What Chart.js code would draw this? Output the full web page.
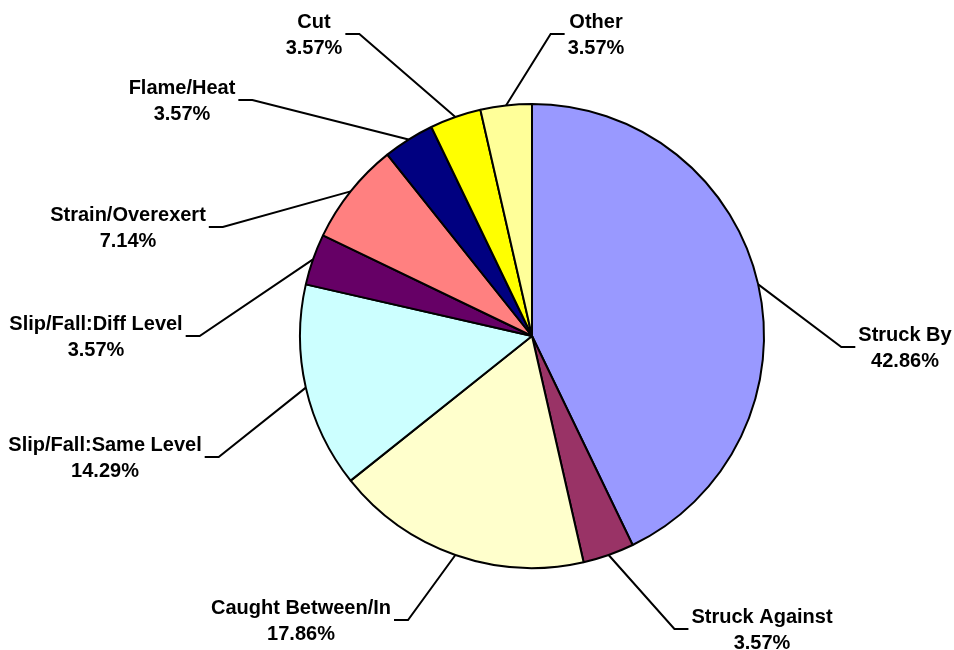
<!DOCTYPE html>
<html>
<head>
<meta charset="utf-8">
<script src="https://cdn.jsdelivr.net/npm/chart.js@4/dist/chart.umd.min.js"></script>
<style>
  html, body { margin: 0; padding: 0; background: #ffffff; }
  #wrap { width: 954px; height: 650px; }
</style>
</head>
<body>
<div id="wrap"><canvas id="c" width="954" height="650"></canvas></div>
<script>
// ---- data ----
const categories = [
  "Struck By", "Struck Against", "Caught Between/In", "Slip/Fall:Same Level",
  "Slip/Fall:Diff Level", "Strain/Overexert", "Flame/Heat", "Cut", "Other"
];
const counts = [12, 1, 5, 4, 1, 2, 1, 1, 1];
const sliceColors = [
  "#9999FF", "#993366", "#FFFFCC", "#CCFFFF",
  "#660066", "#FF8080", "#000080", "#FFFF00", "#FFFF99"
];

// ---- label layout (offsets of label block centre from pie centre, px) ----
const labelOffsets = [
  [373, 11], [230, 293], [-231, 284], [-427, 121],
  [-436, 0], [-404, -109], [-350, -236], [-218, -302], [64, -302]
];

const total = counts.reduce((a, b) => a + b, 0);

const leaderLabels = {
  id: 'leaderLabels',
  afterDatasetsDraw(chart) {
    const ctx = chart.ctx;
    const meta = chart.getDatasetMeta(0);
    ctx.save();
    ctx.font = 'bold 20px "Liberation Sans", Arial, sans-serif';
    ctx.fillStyle = '#000000';
    ctx.strokeStyle = '#000000';
    ctx.lineWidth = 2;
    ctx.lineJoin = 'miter';
    ctx.textAlign = 'center';
    ctx.textBaseline = 'alphabetic';
    meta.data.forEach((arc, i) => {
      const p = arc.getProps(['x', 'y', 'startAngle', 'endAngle', 'outerRadius'], true);
      const mid = (p.startAngle + p.endAngle) / 2;
      const sx = p.x + p.outerRadius * Math.cos(mid);
      const sy = p.y + p.outerRadius * Math.sin(mid);
      const cx = p.x + labelOffsets[i][0];
      const cy = p.y + labelOffsets[i][1];
      const line1 = categories[i];
      const line2 = (counts[i] / total * 100).toFixed(2) + '%';
      const w = Math.max(ctx.measureText(line1).width, ctx.measureText(line2).width);
      let edge, elbow;
      if (labelOffsets[i][0] > 0) {
        edge = cx - w / 2 - 3;
        elbow = edge - 14;
      } else {
        edge = cx + w / 2 + 3;
        elbow = edge + 14;
      }
      ctx.beginPath();
      ctx.moveTo(sx, sy);
      ctx.lineTo(elbow, cy);
      ctx.lineTo(edge, cy);
      ctx.stroke();
      ctx.fillText(line1, cx, cy - 6);
      ctx.fillText(line2, cx, cy + 20);
    });
    ctx.restore();
  }
};

new Chart(document.getElementById('c'), {
  type: 'pie',
  data: {
    labels: categories,
    datasets: [{
      data: counts,
      backgroundColor: sliceColors,
      borderColor: '#000000',
      borderWidth: 2
    }]
  },
  options: {
    responsive: false,
    animation: false,
    devicePixelRatio: 1,
    radius: 232,
    layout: { padding: { left: 110, top: 22, right: 0, bottom: 0 } },
    plugins: {
      legend: { display: false },
      tooltip: { enabled: false },
      title: { display: false }
    }
  },
  plugins: [leaderLabels]
});
</script>
</body>
</html>
